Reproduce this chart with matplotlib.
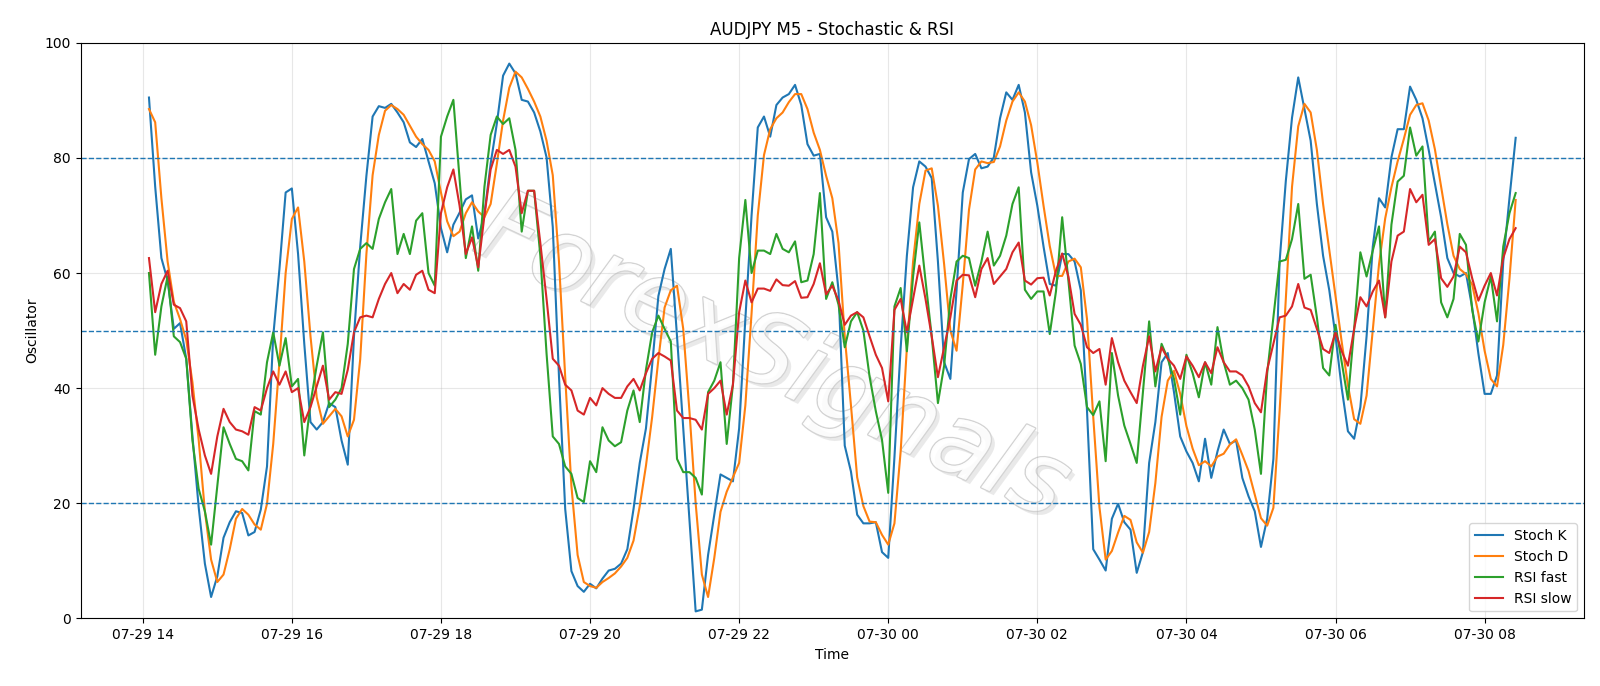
import matplotlib
matplotlib.use("Agg")
import matplotlib.pyplot as plt
import matplotlib.dates as mdates
import matplotlib.patheffects as pe
import pandas as pd

# M5 bars, 07-29 14:05 .. 07-30 08:25
times = pd.date_range("2024-07-29 14:05", "2024-07-30 08:25", freq="5min")

stoch_k = [
    90.5, 75, 62.6, 58.7, 50.3, 51.3, 45.1, 31.6, 19.3, 9.5, 3.7, 7.3, 14, 16.7, 18.6, 18.3, 14.4, 15,
    18.9, 26.4, 49, 60.7, 74, 74.7, 63.3, 47.7, 34.1, 32.8, 34.1, 37.4, 36.7, 30.9, 26.7, 49, 64.6, 76.9, 87.2,
    89, 88.7, 89.4, 87.9, 86.2, 82.7, 81.9, 83.3, 79.4, 75.6, 67.8, 63.6, 68.4, 70.5, 72.8, 73.5, 66, 70.3,
    79, 86, 94.3, 96.4, 94.7, 90.1, 89.8, 87.9, 84.6, 80.1, 68, 42, 19, 8.2, 5.6, 4.6, 6, 5.2, 6.9,
    8.3, 8.6, 9.5, 12, 19, 27, 33, 44, 56, 60.7, 64.2, 49, 33, 17, 1.2, 1.5, 11, 18, 25,
    24.4, 23.8, 33, 52, 70, 85.3, 87.2, 83.7, 89.2, 90.5, 91.1, 92.7, 89.2, 82.4, 80.4, 80.7, 69.7, 67.2, 57,
    30, 25.5, 18, 16.5, 16.5, 16.7, 11.5, 10.5, 28, 47, 63, 74.9, 79.4, 78.5, 76.5, 62, 44.5, 41.6,
    57, 74, 79.8, 80.7, 78.2, 78.5, 80.1, 86.9, 91.4, 90.1, 92.7, 87.9, 77.5, 71.7, 64.6, 58.1, 57.8, 63.3, 63.3,
    62, 57, 36, 12, 10.2, 8.3, 17.3, 19.9, 16.7, 15.4, 7.9, 11.5, 27, 34.1, 44.5, 46.1, 39.3, 31.6, 29,
    27, 23.8, 31.2, 24.4, 29, 32.8, 30.3, 30.9, 24.4, 21.2, 18.6, 12.4, 17.3, 27.7, 62, 76, 87, 94, 88.5,
    83, 72, 63, 57, 49, 40, 32.5, 31.2, 36.7, 49, 64.6, 73, 71.4, 80.1, 85, 85, 92.4, 90.1,
    86.9, 81.4, 75.6, 69.7, 62.6, 60, 59.4, 60, 54, 46, 39, 39, 42.2, 62, 73, 83.5,
]

stoch_d = [
    88.5, 86.2, 73, 62, 55, 52, 48.4, 41, 31, 18.6, 10.2, 6.3, 7.6, 12, 17.3, 19, 18, 16.3,
    15.4, 19.9, 30.3, 44.5, 60, 69.4, 71.4, 62, 49, 38.4, 33.8, 35.1, 36.4, 35.1, 31.6, 34.5, 45, 63.3, 77,
    84, 88.2, 89.2, 88.5, 87.5, 85.6, 83.7, 82.4, 81.4, 79.4, 74, 69, 66.4, 67.2, 70.4, 72.3, 70.7, 69.7,
    72, 79, 86.5, 92.2, 95, 94, 92, 89.8, 87.2, 83, 77, 62, 42, 23, 11, 6.3, 5.6, 5.3, 6.3,
    7, 7.8, 9, 10.5, 13.5, 19.5, 26.5, 35, 45, 54, 57, 57.8, 50.3, 36, 20, 7.6, 3.7, 10.5, 18.5,
    22, 24.5, 27, 37, 53, 70, 80.5, 85, 86.9, 87.9, 89.7, 91.1, 91.1, 88.5, 84.4, 81.4, 76.9, 73, 65.2,
    49, 37, 24.5, 19.5, 16.8, 16.7, 14.5, 12.8, 16.5, 29, 47, 62, 72, 77.8, 78.2, 71.7, 61.5, 50,
    46.5, 58, 71, 78, 79.4, 79.1, 79.3, 82, 86.5, 89.8, 91.4, 89.8, 85.7, 79.2, 71.7, 64.7, 59.5, 59.5, 62,
    62.5, 61, 52, 35, 19.3, 10.2, 11.7, 14.9, 17.8, 17.1, 13.2, 11.4, 15, 23.5, 35, 41.3, 43, 39, 33.4,
    29.5, 26.6, 27.3, 26.4, 28.1, 28.6, 30.2, 31.1, 28.4, 25.6, 21.5, 17.4, 16.1, 19.2, 36, 55.5, 75, 85.5, 89.4,
    87.9, 81.4, 72, 64, 56, 48, 40.5, 34.6, 33.8, 38.7, 50, 61.5, 69.5, 74.9, 79.4, 83.3, 87.5, 89.2,
    89.5, 86.5, 81.5, 75, 68.5, 63, 60.7, 59.8, 58, 53, 46.5, 41.6, 40.3, 47.5, 59, 72.7,
]

rsi_fast = [
    60, 45.8, 54.2, 59.4, 49, 48, 45.1, 30.9, 22.5, 18.6, 12.8, 23, 33.2, 30.3, 27.7, 27.3, 25.7, 36,
    35.4, 44.5, 49.7, 43.9, 48.7, 40.3, 41.6, 28.3, 37.4, 43.9, 49.7, 36.7, 38, 40, 47.7, 60.7, 64.2, 65.2, 64.2,
    69.4, 72.3, 74.6, 63.3, 66.8, 63.3, 69.1, 70.4, 60, 57.8, 83.7, 87.2, 90.1, 76.3, 62.6, 68.1, 60.4, 75,
    84, 87.2, 85.9, 86.9, 81.4, 67.2, 74.3, 74.3, 63, 46, 31.6, 30.3, 26.4, 25.1, 20.9, 20.2, 27.3, 25.4, 33.2,
    30.9, 29.9, 30.6, 36.1, 39.6, 34.1, 43.2, 49.7, 52.6, 50.3, 48.1, 27.7, 25.4, 25.4, 24.4, 21.5, 39.3, 41.3, 44.5,
    30.3, 40.6, 62.6, 72.7, 60, 63.9, 63.9, 63.3, 66.8, 64.2, 63.6, 65.5, 58.4, 58.7, 63.3, 73.9, 55.5, 58.4, 54.5,
    47.1, 51.6, 53.2, 50, 42, 36, 31, 21.8, 54.2, 57.4, 46.4, 59.4, 68.8, 58.7, 49, 37.4, 43.9, 55.5,
    62, 63, 62.6, 57.8, 62, 67.2, 61.3, 63, 66.5, 72, 74.9, 57.1, 55.5, 56.8, 56.8, 49.4, 56.8, 69.7, 58.7,
    47.4, 44.2, 36.7, 35.3, 37.7, 27.3, 46.1, 38.7, 33.5, 30.3, 27, 39.3, 51.6, 40.3, 47.7, 45.1, 41.6, 35.4, 45.8,
    42.6, 38.4, 44.5, 40.6, 50.6, 44.5, 40.6, 41.3, 40, 38, 32.8, 25.1, 42.6, 52.3, 62, 62.3, 65.9, 72, 59,
    59.7, 52.3, 43.5, 42.2, 51, 44.5, 38, 50.3, 63.6, 59.4, 63.9, 68.1, 52.3, 68.4, 75.9, 76.9, 85.3, 80.4,
    82, 65.5, 67.2, 54.9, 52.3, 55.5, 66.8, 64.9, 53.6, 48.1, 54.9, 59.4, 51.6, 64.6, 70.4, 73.9,
]

rsi_slow = [
    62.6, 53.2, 58.1, 60.4, 54.5, 53.9, 51.6, 38.7, 32.8, 28.3, 25.1, 31.6, 36.4, 34.1, 32.8, 32.5, 31.9, 36.7,
    36.1, 40, 42.9, 40.6, 42.9, 39.3, 40, 34.1, 36.7, 40.3, 43.9, 38, 39.3, 39, 43.2, 49.7, 52.3, 52.6, 52.3,
    55.5, 58.1, 60, 56.5, 58.1, 57.1, 59.7, 60.4, 57.1, 56.5, 70.4, 74.9, 78, 71.7, 63.3, 66.2, 61, 70,
    78, 81.4, 80.7, 81.4, 78.5, 70.4, 74.3, 74.3, 65.2, 55.5, 45.1, 43.9, 40.6, 39.6, 36.1, 35.4, 38.3, 37, 40,
    39, 38.3, 38.3, 40.3, 41.6, 39.6, 42.6, 45.1, 46.1, 45.5, 44.8, 36.1, 34.8, 34.8, 34.5, 32.8, 39, 40, 41.3,
    35.4, 40.6, 53.2, 58.7, 54.9, 57.3, 57.3, 56.9, 58.9, 57.9, 57.8, 58.6, 55.7, 55.8, 58.1, 61.7, 56.3, 57.8, 55.2,
    51, 52.6, 53.2, 52.3, 49, 45.8, 43.5, 37.7, 53.6, 55.5, 49.7, 55.5, 61.3, 55.5, 49, 41.9, 47.1, 52.3,
    58.7, 59.7, 59.6, 55.8, 60.7, 62.6, 58.1, 59.4, 60.7, 63.6, 65.3, 58.7, 58, 59.1, 59.2, 56.1, 60.4, 63.4, 59.4,
    52.9, 51, 47.1, 46.1, 46.8, 40.6, 48.7, 44.5, 41.3, 39.3, 37.4, 43.9, 49, 42.9, 47.1, 45.1, 43.9, 41.6, 45.5,
    43.9, 41.9, 44.5, 42.6, 47.1, 44.5, 42.9, 42.9, 42.2, 40.3, 37.4, 35.8, 43.2, 47.7, 52.3, 52.6, 54.2, 58.1, 54,
    53.6, 50.3, 46.8, 46.1, 49.7, 46.4, 43.9, 50.3, 55.8, 54.2, 56.8, 58.7, 52.3, 62, 66.5, 67.2, 74.6, 72.3,
    73.6, 64.9, 65.9, 59.1, 57.6, 59.4, 64.6, 63.6, 59.1, 55.2, 57.8, 60, 56.1, 62.6, 65.9, 67.8,
]

levels = [20, 50, 80]

fig, ax = plt.subplots(figsize=(16, 6.86), dpi=100)
plt.subplots_adjust(left=0.0504, right=0.99, top=0.9375, bottom=0.0987)

ax.plot(times, stoch_k, label="Stoch K", lw=1.5)
ax.plot(times, stoch_d, label="Stoch D", lw=1.5)
ax.plot(times, rsi_fast, label="RSI fast", lw=1.5)
ax.plot(times, rsi_slow, label="RSI slow", lw=1.5)

for lvl in levels:
    ax.axhline(lvl, color="#1f77b4", linestyle="--", lw=1)

ax.set_ylim(0, 100)
ax.grid(True, alpha=0.3)
ax.xaxis.set_major_locator(mdates.HourLocator(byhour=range(0, 24, 2)))
ax.xaxis.set_major_formatter(mdates.DateFormatter("%m-%d %H"))
ax.set_title("AUDJPY M5 - Stochastic & RSI")
ax.set_xlabel("Time")
ax.set_ylabel("Oscillator")
ax.legend(loc="lower right")

# watermark
ax.text(0.46, 0.45, "ForexSignals", transform=ax.transAxes, fontsize=72,
        color="white", rotation=-25, ha="center", va="center", style="italic",
        alpha=0.85, zorder=0,
        path_effects=[pe.withStroke(linewidth=2, foreground="#cccccc"),
                      pe.withSimplePatchShadow(offset=(3, -3), shadow_rgbFace="#d5d5d5", alpha=0.5)])

fig.savefig("out.png")
